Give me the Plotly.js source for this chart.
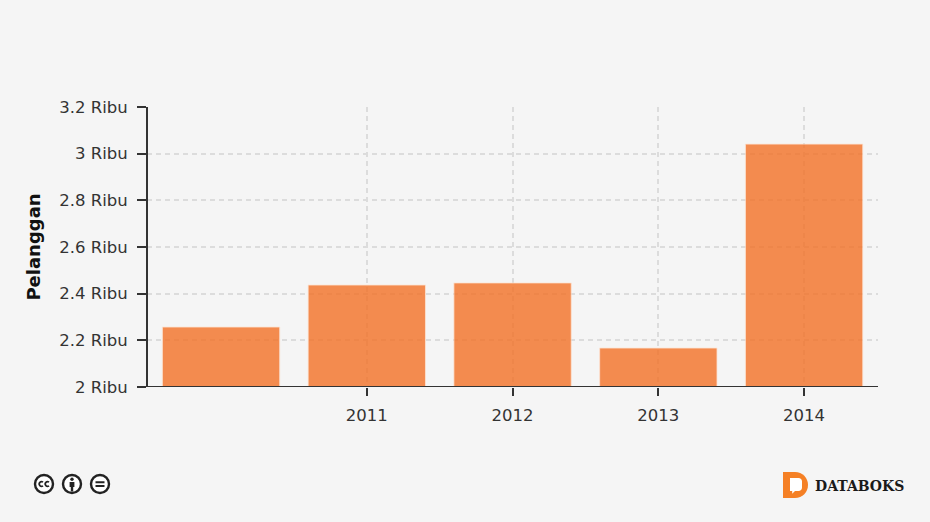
<!DOCTYPE html>
<html>
<head>
<meta charset="utf-8">
<script src="https://cdn.plot.ly/plotly-3.0.1.min.js"></script>
<style>html,body{margin:0;padding:0;background:#f5f5f5;overflow:hidden}</style>
</head>
<body>
<div id="chart" style="width:930px;height:522px"></div>
<script>
var years = [2010, 2011, 2012, 2013, 2014];
var pelanggan = [2.257, 2.437, 2.446, 2.167, 3.041];
var xTickVals = [2011, 2012, 2013, 2014];
var xTickText = ['2011', '2012', '2013', '2014'];
var yTickVals = [2, 2.2, 2.4, 2.6, 2.8, 3, 3.2];
var yTickText = ['2 Ribu', '2.2 Ribu', '2.4 Ribu', '2.6 Ribu', '2.8 Ribu', '3 Ribu', '3.2 Ribu'];
var yTitle = 'Pelanggan';
var brand = 'DATABOKS';

function svgUri(w, h, body) {
  return 'data:image/svg+xml;charset=utf-8,' + encodeURIComponent(
    '<svg xmlns="http://www.w3.org/2000/svg" width="' + w + '" height="' + h + '" viewBox="0 0 ' + w + ' ' + h + '">' + body + '</svg>');
}
var ring = '<circle cx="11" cy="11" r="9" fill="#fff" stroke="#222" stroke-width="2.4"/>';
var ccIcon = svgUri(22, 22, ring +
  '<path d="M10 9.2a2.3 2.3 0 1 0 0 3.6M16 9.2a2.3 2.3 0 1 0 0 3.6" fill="none" stroke="#222" stroke-width="1.7"/>');
var byIcon = svgUri(22, 22, ring +
  '<circle cx="11" cy="6.3" r="1.7" fill="#222"/><path d="M8.6 9h4.8v5h-1.2v4.4h-2.4V14H8.6z" fill="#222"/>');
var ndIcon = svgUri(22, 22, ring +
  '<path d="M6.5 8.2h9v2h-9zM6.5 11.9h9v2h-9z" fill="#222"/>');
var logoIcon = svgUri(25, 26,
  '<path d="M0 0h12c7.5 0 13 5.8 13 13s-5.500 13-13 13H0z" fill="#f58025"/>' +
  '<path d="M7 6h8.500c2 0 3.500 1.500 3.500 3.500v6c0 2-1.500 3.500-3.500 3.500H12l-2.800 2.800V19H7z" fill="#fff"/>');

function icon(src, x, y, w, h) {
  return {source: src, xref: 'paper', yref: 'paper',
    x: (x - 147) / 731, y: (387 - y) / 280,
    sizex: w / 731, sizey: h / 280, xanchor: 'left', yanchor: 'top', sizing: 'stretch', layer: 'above'};
}

var trace = {
  type: 'bar',
  x: years,
  y: pelanggan,
  width: 0.805,
  marker: {color: 'rgb(243,113,38)', opacity: 0.8, line: {color: 'rgba(255,225,205,0.8)', width: 1}},
  hoverinfo: 'x+y'
};

var axisShapes = [
  {type: 'line', xref: 'paper', yref: 'y', x0: 0, x1: 1, y0: 2, y1: 2, line: {color: '#333', width: 2}, layer: 'above'},
  {type: 'line', xref: 'x domain', yref: 'y', x0: 0, x1: 0, y0: 2, y1: 3.2, line: {color: '#333', width: 2}, layer: 'above'}
];

var layout = {
  width: 930,
  height: 522,
  paper_bgcolor: '#f5f5f5',
  plot_bgcolor: '#f5f5f5',
  margin: {l: 147, r: 52, t: 107, b: 135, pad: 0},
  font: {family: '"DejaVu Sans", sans-serif', size: 16, color: '#333'},
  showlegend: false,
  shapes: axisShapes,
  xaxis: {
    type: 'linear',
    range: [2009.492, 2014.507],
    tickmode: 'array',
    tickvals: xTickVals,
    ticktext: xTickText,
    ticks: 'outside',
    ticklen: 8,
    tickwidth: 2,
    tickcolor: '#333',
    showline: false,
    showgrid: true,
    gridcolor: '#dcdcdc',
    griddash: '5px,4px',
    gridwidth: 2,
    zeroline: false,
    tickfont: {size: 16.500, color: '#333'},
    ticklabelstandoff: 5
  },
  yaxis: {
    range: [2, 3.2],
    tickmode: 'array',
    tickvals: yTickVals,
    ticktext: yTickText,
    ticks: 'outside',
    ticklen: 9,
    tickwidth: 2,
    tickcolor: '#333',
    showline: false,
    showgrid: true,
    gridcolor: '#dcdcdc',
    griddash: '5px,4px',
    gridwidth: 2,
    zeroline: false,
    tickfont: {size: 16.500, color: '#333'},
    ticklabelstandoff: 6,
    title: {text: '<b>' + yTitle + '</b>', font: {size: 18, color: '#111'}, standoff: 13}
  },
  images: [
    icon(ccIcon, 33, 473, 22, 22),
    icon(byIcon, 61, 473, 22, 22),
    icon(ndIcon, 89, 473, 22, 22),
    icon(logoIcon, 783, 472, 25, 26)
  ],
  annotations: [{
    xref: 'paper', yref: 'paper',
    x: (813 - 147) / 731, y: (387 - 486) / 280,
    xanchor: 'left', yanchor: 'middle', showarrow: false,
    text: '<b>' + brand + '</b>',
    font: {family: '"DejaVu Serif", serif', size: 14, color: '#1a1a1a'}
  }]
};

Plotly.newPlot('chart', [trace], layout, {displayModeBar: false, staticPlot: true});
</script>
</body>
</html>
